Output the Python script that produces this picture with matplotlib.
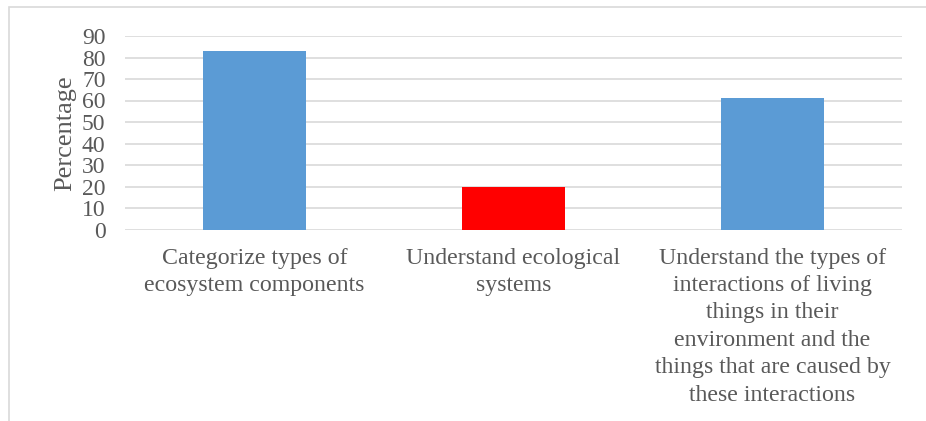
import matplotlib.pyplot as plt
from matplotlib.patches import Rectangle

# podaci
kategorije = [
    "Categorize types of\necosystem components",
    "Understand ecological\nsystems",
    "Understand the types of\ninteractions of living\nthings in their\nenvironment and the\nthings that are caused by\nthese interactions",
]
postotci = [83, 20, 61]
boje = ["#5B9BD5", "#FF0000", "#5B9BD5"]
y_oznake = [0, 10, 20, 30, 40, 50, 60, 70, 80, 90]

plt.rcParams["font.family"] = ["Liberation Serif", "DejaVu Serif"]
siva = "#595959"

fig = plt.figure(figsize=(9.26, 4.21), dpi=100)
ax = fig.add_axes([125 / 926, 1 - 229.5 / 421, 777 / 926, 193.5 / 421])

x = range(len(kategorije))
ax.bar(x, postotci, width=0.4, color=boje, zorder=3)

ax.set_xlim(-0.5, 2.5)
ax.set_ylim(0, 90)
ax.set_yticks(y_oznake)
ax.set_xticks(list(x))
ax.set_xticklabels(kategorije, fontsize=17.2, color=siva, linespacing=1.4)
ax.tick_params(axis="y", labelsize=17, labelcolor=siva, length=0, pad=14)
ax.tick_params(axis="x", length=0, pad=13)
ax.set_ylabel("Percentage", fontsize=19, color=siva, labelpad=4)

ax.grid(axis="y", color="#D9D9D9", linewidth=1.2, zorder=0)
for s in ax.spines.values():
    s.set_visible(False)

# okvir oko grafa
okvir = Rectangle((9 / 926, -0.2), 1.2, 1.2 - 7 / 421, transform=fig.transFigure,
                  fill=False, edgecolor="#D9D9D9", linewidth=1.2, clip_on=False)
fig.patches.append(okvir)

plt.savefig("out.png", dpi=100)
